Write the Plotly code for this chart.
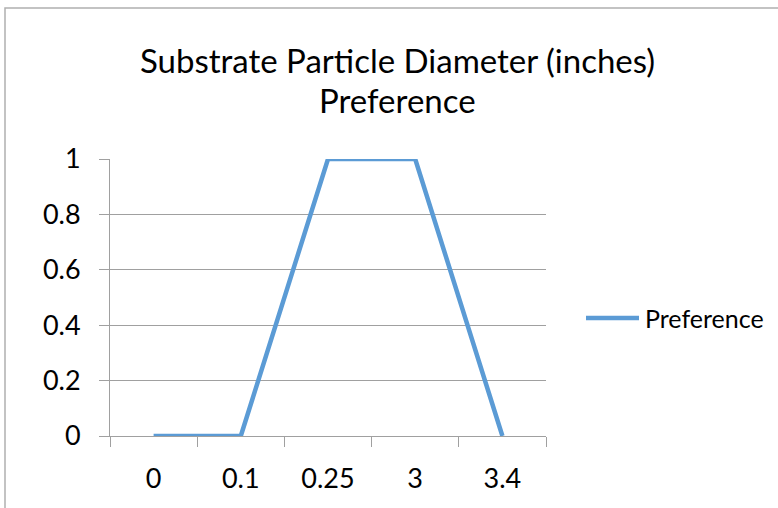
import plotly.graph_objects as go

categories = ["0", "0.1", "0.25", "3", "3.4"]
preference = [0, 0, 1, 1, 0]
series_name = "Preference"
title_lines = ["Substrate Particle Diameter (inches)", "Preference"]

FONT = "Lato"
GRID = "#A0A0A0"
BLUE = "#5B9BD5"

L, R, T, B = 110, 546, 159, 436
W, H = 778, 508
pw, ph = R - L, B - T


def px(xp):
    return (xp - L) / pw


def py(yp):
    return (B - yp) / ph


fig = go.Figure()
fig.add_trace(go.Scatter(
    x=categories, y=preference, mode="lines", name=series_name,
    line=dict(color=BLUE, width=4.5), cliponaxis=False, showlegend=False,
))

annotations = [
    dict(text=title_lines[0], x=px(397), y=py(60), xref="paper", yref="paper",
         xanchor="center", yanchor="middle", showarrow=False,
         font=dict(family=FONT, size=33, color="black")),
    dict(text=title_lines[1], x=px(397), y=py(100), xref="paper", yref="paper",
         xanchor="center", yanchor="middle", showarrow=False,
         font=dict(family=FONT, size=33, color="black")),
    dict(text=series_name, x=px(643), y=py(318), xref="paper", yref="paper",
         xanchor="left", yanchor="middle", showarrow=False,
         font=dict(family=FONT, size=25, color="black")),
]

fig.update_layout(
    width=W, height=H,
    margin=dict(l=L, r=W - R, t=T, b=H - B, pad=0),
    paper_bgcolor="white", plot_bgcolor="white",
    showlegend=False,
    annotations=annotations,
    xaxis=dict(type="category", range=[-0.5, 4.5], showgrid=False, zeroline=False,
               showline=True, linecolor=GRID, linewidth=1,
               ticks="outside", tickson="boundaries", ticklen=10, tickcolor=GRID,
               tickfont=dict(family=FONT, size=27, color="black"),
               ticklabelstandoff=19),
    yaxis=dict(range=[0, 1], dtick=0.2, showgrid=True, gridcolor=GRID, gridwidth=1,
               zeroline=False, showline=True, linecolor=GRID, linewidth=1,
               ticks="outside", ticklen=10, tickcolor=GRID,
               tickfont=dict(family=FONT, size=27, color="black"),
               ticklabelstandoff=13),
    shapes=[
        dict(type="rect", xref="paper", yref="paper",
             x0=px(5), x1=px(W + 20), y0=py(H + 20), y1=py(8),
             line=dict(color="#B0B0B0", width=1.5), fillcolor="rgba(0,0,0,0)",
             layer="below"),
        dict(type="line", xref="paper", yref="paper",
             x0=px(586), x1=px(639), y0=py(318), y1=py(318),
             line=dict(color=BLUE, width=4.5)),
    ],
)

fig.write_html("out.html")
